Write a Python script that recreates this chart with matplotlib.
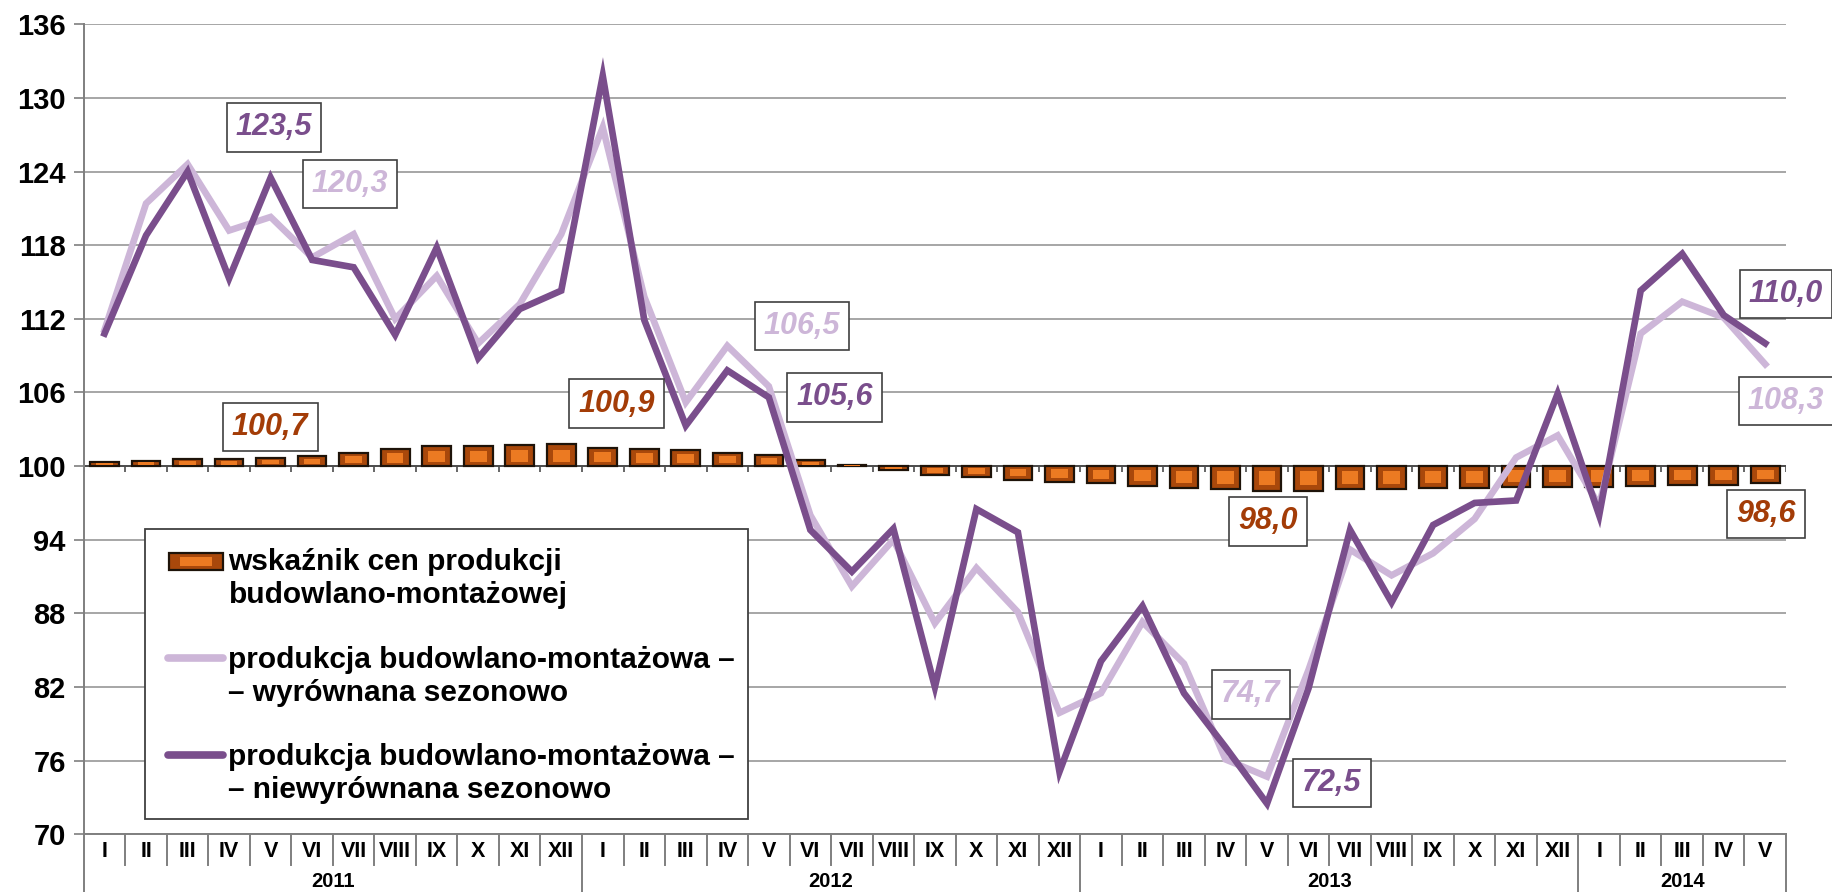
import matplotlib
matplotlib.use("Agg")
import matplotlib.pyplot as plt
from matplotlib.patches import Rectangle
from matplotlib.lines import Line2D
import numpy as np

plt.rcParams['font.family'] = ['Liberation Sans', 'DejaVu Sans']

# ---------------- data ----------------
months = ["I", "II", "III", "IV", "V", "VI", "VII", "VIII", "IX", "X", "XI", "XII"] * 3 + ["I", "II", "III", "IV", "V"]
years = ["2011", "2012", "2013", "2014"]
year_lengths = [12, 12, 12, 5]

price_index = [100.3, 100.4, 100.6, 100.6, 100.7, 100.8, 101.1, 101.4, 101.6, 101.6, 101.7, 101.8,
               101.5, 101.4, 101.3, 101.1, 100.9, 100.5, 100.1, 99.7, 99.3, 99.1, 98.9, 98.7,
               98.6, 98.4, 98.2, 98.1, 98.0, 98.0, 98.1, 98.1, 98.2, 98.2, 98.3, 98.3,
               98.3, 98.4, 98.5, 98.5, 98.6]

adjusted = [111.1, 121.4, 124.6, 119.2, 120.3, 117.0, 118.9, 112.0, 115.5, 110.0, 113.2, 118.9,
            127.6, 113.8, 105.2, 109.8, 106.5, 96.0, 90.2, 94.0, 87.2, 91.7, 88.1, 79.9,
            81.5, 87.3, 83.9, 76.1, 74.7, 83.4, 93.2, 91.1, 92.9, 95.7, 100.7, 102.5,
            96.8, 110.8, 113.4, 112.1, 108.3]

unadjusted = [110.8, 118.8, 124.0, 115.3, 123.5, 116.8, 116.2, 110.7, 117.8, 108.8, 112.8, 114.3,
              131.8, 111.9, 103.3, 107.8, 105.6, 94.8, 91.4, 94.9, 82.0, 96.5, 94.6, 75.1,
              84.1, 88.6, 81.5, 77.1, 72.5, 81.9, 94.8, 88.9, 95.2, 97.0, 97.2, 105.9,
              96.0, 114.3, 117.3, 112.3, 110.0]

legend_labels = [["wskaźnik cen produkcji", "budowlano-montażowej"],
                 ["produkcja budowlano-montażowa –", "– wyrównana sezonowo"],
                 ["produkcja budowlano-montażowa –", "– niewyrównana sezonowo"]]

# value labels: (text, x position in category units, y position, series)
value_labels = [("123,5", 4.08, 127.6, "dark"),
                ("120,3", 5.91, 123.0, "light"),
                ("100,7", 3.99, 103.2, "bar"),
                ("100,9", 12.34, 105.1, "bar"),
                ("106,5", 16.80, 111.4, "light"),
                ("105,6", 17.59, 105.6, "dark"),
                ("98,0", 28.02, 95.5, "bar"),
                ("98,6", 40.02, 96.1, "bar"),
                ("74,7", 27.61, 81.4, "light"),
                ("72,5", 29.56, 74.2, "dark"),
                ("110,0", 40.50, 114.0, "dark"),
                ("108,3", 40.50, 105.3, "light")]

yticks = [70, 76, 82, 88, 94, 100, 106, 112, 118, 124, 130, 136]

# ---------------- styles ----------------
DARK = "#7A4E8C"
LIGHT = "#CDB6D8"
BAR_OUT = "#A9480B"
BAR_IN = "#EC7A22"
BAR_EDGE = "#1E1309"
ORANGE_TXT = "#A33C07"
GRID = "#A6A6A6"
AXC = "#7F7F7F"

W, H = 1833, 892
fig = plt.figure(figsize=(W / 100, H / 100), dpi=100)
ax = fig.add_axes([83.8 / W, 1 - 834.3 / H, (1786 - 83.8) / W, (834.3 - 24.3) / H])

n = len(months)
x = np.arange(n)
pi = np.array(price_index)
d = pi - 100

# bars around base 100
ax.bar(x, d, bottom=100, width=0.69, color=BAR_OUT, edgecolor=BAR_EDGE, linewidth=1.6, zorder=3)
ax.bar(x, d * 0.55, bottom=100 + d * 0.2, width=0.40, color=BAR_IN, linewidth=0, zorder=3.1)

# lines
ax.plot(x, adjusted, color=LIGHT, lw=4.8, zorder=4, solid_joinstyle='miter')
ax.plot(x, unadjusted, color=DARK, lw=4.8, zorder=5, solid_joinstyle='miter')

# axes style
ax.set_xlim(-0.5, n - 0.5)
ax.set_ylim(70, 136)
ax.set_yticks(yticks)
ax.set_yticklabels([str(t) for t in yticks], fontsize=21, fontweight='bold')
ax.tick_params(axis='y', direction='out', length=7, width=1.2, color=AXC, pad=6)
ax.set_xticks([])
ax.yaxis.grid(True, color=GRID, lw=1.4, zorder=0)
ax.set_axisbelow(True)
for s in ['top', 'right']:
    ax.spines[s].set_visible(False)
ax.spines['left'].set_color(AXC)
ax.spines['left'].set_linewidth(1.4)
ax.spines['bottom'].set_color(AXC)
ax.spines['bottom'].set_linewidth(1.4)

# category axis crossing at 100
ax.axhline(100, color="#4D4D4D", lw=1.4, zorder=2.5)
bounds = np.arange(n + 1) - 0.5
ax.vlines(bounds, 99.5, 100, color="#4D4D4D", lw=1.2, zorder=2.5)

# month/year labels below axis
tr = ax.get_xaxis_transform()
for i, m in enumerate(months):
    ax.text(i, -0.0215, m, transform=tr, ha='center', va='center', fontsize=15.5, fontweight='bold', clip_on=False)
year_bounds = [-0.5]
for L in year_lengths:
    year_bounds.append(year_bounds[-1] + L)
for b in bounds:
    if b in year_bounds:
        ax.add_line(Line2D([b, b], [0, -0.075], transform=tr, color=AXC, lw=1.4, clip_on=False))
    else:
        ax.add_line(Line2D([b, b], [0, -0.038], transform=tr, color=AXC, lw=1.4, clip_on=False))
for k, yname in enumerate(years):
    cx = (year_bounds[k] + year_bounds[k + 1]) / 2
    ax.text(cx, -0.0585, yname, transform=tr, ha='center', va='center', fontsize=14.5, fontweight='bold', clip_on=False)

# value labels
cmap = {"dark": DARK, "light": LIGHT, "bar": ORANGE_TXT}
for txt, lx, ly, ser in value_labels:
    ax.text(lx, ly, txt, ha='center', va='center', fontsize=22, fontweight='bold', fontstyle='italic',
            color=cmap[ser], zorder=7, clip_on=False,
            bbox=dict(boxstyle='square,pad=0.3', fc='white', ec='#404040', lw=1.2))

# legend (drawn in figure pixels converted to fractions)
def fx(px):
    return px / W

def fy(py):
    return 1 - py / H

fig.patches.append(Rectangle((fx(145.5), fy(819)), fx(748) - fx(145.5), fy(529) - fy(819),
                             transform=fig.transFigure, fc='white', ec='#404040', lw=1.3, zorder=8))
fig.patches.append(Rectangle((fx(169), fy(570)), fx(223) - fx(169), fy(553) - fy(570),
                             transform=fig.transFigure, fc=BAR_OUT, ec=BAR_EDGE, lw=1.6, zorder=9))
fig.patches.append(Rectangle((fx(180), fy(566)), fx(212) - fx(180), fy(557) - fy(566),
                             transform=fig.transFigure, fc=BAR_IN, lw=0, zorder=9.1))
fig.lines.append(Line2D([fx(168), fx(223)], [fy(658), fy(658)], transform=fig.transFigure,
                        color=LIGHT, lw=5.5, solid_capstyle='round', zorder=9))
fig.lines.append(Line2D([fx(168), fx(223)], [fy(755), fy(755)], transform=fig.transFigure,
                        color=DARK, lw=5.5, solid_capstyle='round', zorder=9))
baselines = [570, 668, 765]
for lab, b in zip(legend_labels, baselines):
    for j, line in enumerate(lab):
        fig.text(fx(228.5), fy(b + 33 * j), line, ha='left', va='baseline', fontsize=21.5,
                 fontweight='bold', zorder=10)

fig.savefig("out.png", dpi=100)
